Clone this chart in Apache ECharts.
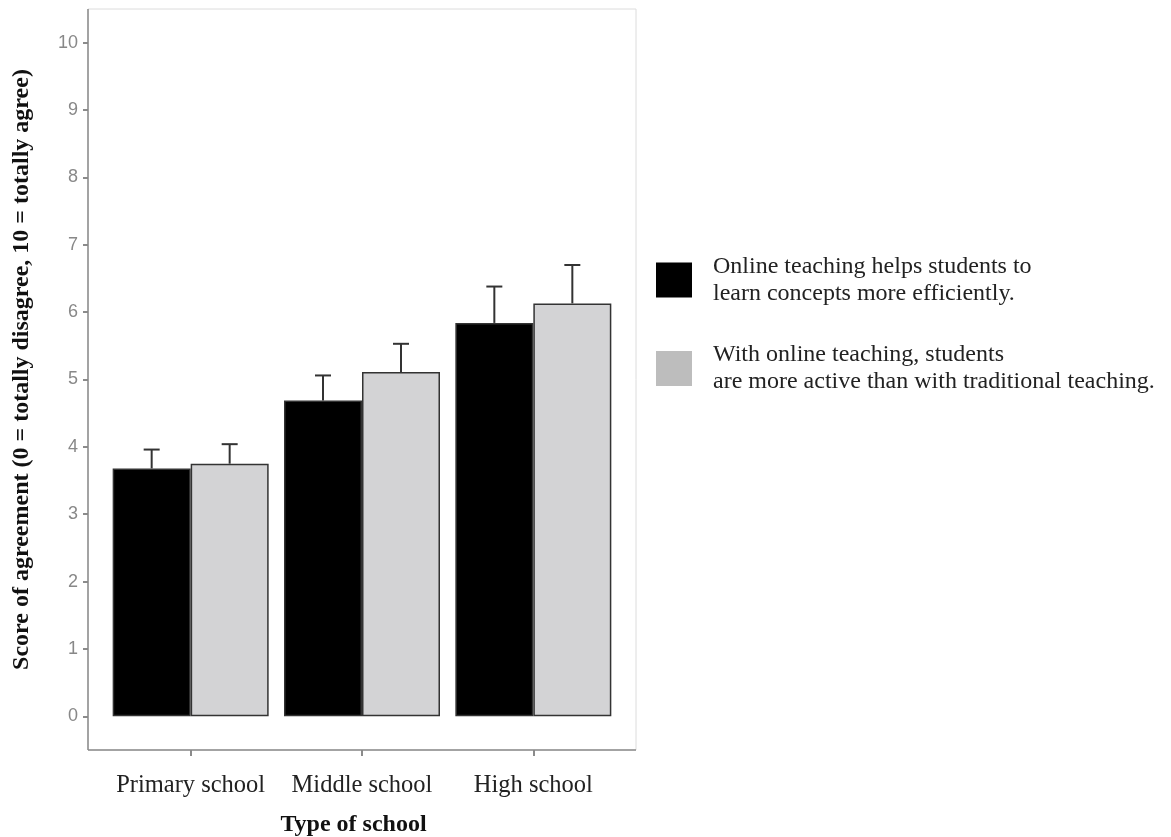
<!DOCTYPE html>
<html>
<head>
<meta charset="utf-8">
<script src="https://cdn.jsdelivr.net/npm/echarts@6/dist/echarts.min.js"></script>
<style>
  html, body { margin: 0; padding: 0; background: #fff; }
  #chart { width: 1171px; height: 837px; }
</style>
</head>
<body>
<div id="chart"></div>
<script>
// Mean agreement scores by school type, with upper error bars
const categories = ['Primary school', 'Middle school', 'High school'];
const seriesNames = [
  'Online teaching helps students to\nlearn concepts more efficiently.',
  'With online teaching, students\nare more active than with traditional teaching.'
];
const efficiencyMeans = [3.68, 4.69, 5.84];
const efficiencyUpper = [3.96, 5.06, 6.38];
const activityMeans = [3.75, 5.11, 6.13];
const activityUpper = [4.04, 5.53, 6.70];
const yTicks = [0, 1, 2, 3, 4, 5, 6, 7, 8, 9, 10];

const serif = '"Liberation Serif", "DejaVu Serif", serif';
const sans = '"Liberation Sans", Arial, sans-serif';
const barW = 78;

function errorBars(upper, means, shift) {
  return {
    type: 'custom',
    silent: true,
    z: 3,
    data: categories.map((c, i) => [i, means[i], upper[i]]),
    renderItem: function (params, api) {
      const base = api.coord([api.value(0), api.value(1)]);
      const top = api.coord([api.value(0), api.value(2)]);
      const x = base[0] + shift;
      const cap = 8;
      const style = { stroke: '#333', lineWidth: 2, fill: null };
      return {
        type: 'group',
        children: [
          { type: 'line', shape: { x1: x, y1: base[1], x2: x, y2: top[1] }, style: style },
          { type: 'line', shape: { x1: x - cap, y1: top[1], x2: x + cap, y2: top[1] }, style: style }
        ]
      };
    }
  };
}

const chart = echarts.init(document.getElementById('chart'));
chart.setOption({
  animation: false,
  backgroundColor: '#fff',
  grid: [
    { left: 105, right: 552, top: 9, bottom: 87, containLabel: false, outerBoundsMode: 'none' },
    // panel frame
    { left: 88, right: 535, top: 9, bottom: 87, show: true, borderColor: '#dcdcdc', borderWidth: 1,
      backgroundColor: 'transparent', outerBoundsMode: 'none' }
  ],
  xAxis: [
    {
      type: 'category', gridIndex: 0, data: categories,
      name: 'Type of school', nameLocation: 'middle', nameGap: 63,
      nameTextStyle: { fontFamily: serif, fontWeight: 'bold', fontSize: 24, color: '#111', padding: [0, 17, 0, 0] },
      axisLine: { show: false, onZero: false },
      axisTick: { show: true, inside: false, alignWithLabel: true, length: 6, lineStyle: { color: '#666', width: 1.5 } },
      axisLabel: { fontFamily: serif, fontSize: 24.5, color: '#222', margin: 23, interval: 0 },
      splitLine: { show: false }
    },
    { type: 'value', gridIndex: 1, show: false, min: 0, max: 1 }
  ],
  yAxis: [
    {
      type: 'value', gridIndex: 0, min: -0.5, max: 10.5, offset: 17,
      name: 'Score of agreement (0 = totally disagree, 10 = totally agree)',
      nameLocation: 'middle', nameGap: 54, nameRotate: 90,
      nameTextStyle: { fontFamily: serif, fontWeight: 'bold', fontSize: 24, color: '#111', padding: [0, 0, 0, 20] },
      axisLine: { show: false },
      axisTick: { show: true, length: 5, customValues: yTicks, lineStyle: { color: '#666', width: 1.5 } },
      axisLabel: { fontFamily: sans, fontSize: 18, color: '#888', margin: 10, customValues: yTicks },
      splitLine: { show: false }
    },
    { type: 'value', gridIndex: 1, show: false, min: 0, max: 1 }
  ],
  graphic: [],
  legend: {
    orient: 'vertical', left: 651, top: 248, itemWidth: 36, itemHeight: 35, itemGap: 34.5,
    icon: 'rect',
    textStyle: { fontFamily: serif, fontSize: 24, color: '#222', lineHeight: 27, padding: [0, 0, 0, 16] },
    data: [
      { name: seriesNames[0], itemStyle: { color: '#000', borderWidth: 0 } },
      { name: seriesNames[1], itemStyle: { color: '#bdbdbd', borderWidth: 0 } }
    ]
  },
  series: [
    {
      name: seriesNames[0], type: 'bar', xAxisIndex: 0, yAxisIndex: 0,
      data: efficiencyMeans, barWidth: barW, barGap: '0%',
      itemStyle: { color: '#000', borderColor: '#333', borderWidth: 1.5 }
    },
    {
      name: seriesNames[1], type: 'bar', xAxisIndex: 0, yAxisIndex: 0,
      data: activityMeans, barWidth: barW, barGap: '0%',
      itemStyle: { color: '#d3d3d5', borderColor: '#333', borderWidth: 1.5 }
    },
    errorBars(efficiencyUpper, efficiencyMeans, -barW / 2),
    errorBars(activityUpper, activityMeans, barW / 2)
  ]
});

// axis lines of the panel: left and bottom edges
const lt = chart.convertToPixel({ gridIndex: 1 }, [0, 0]);
const rt = chart.convertToPixel({ gridIndex: 1 }, [1, 1]);
chart.setOption({
  graphic: [
    { type: 'line', shape: { x1: lt[0], y1: lt[1], x2: lt[0], y2: rt[1] }, style: { stroke: '#8a8a8a', lineWidth: 1.5 }, z: 10 },
    { type: 'line', shape: { x1: lt[0], y1: lt[1], x2: rt[0], y2: lt[1] }, style: { stroke: '#8a8a8a', lineWidth: 1.5 }, z: 10 }
  ]
});
</script>
</body>
</html>
